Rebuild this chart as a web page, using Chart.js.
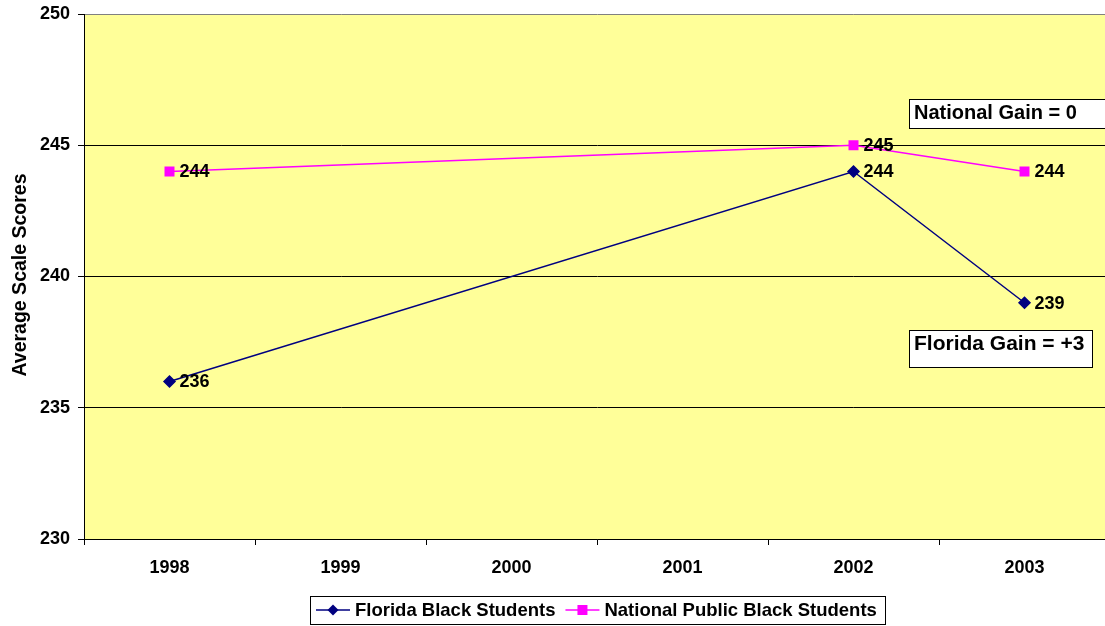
<!DOCTYPE html>
<html><head><meta charset="utf-8">
<script src="https://cdn.jsdelivr.net/npm/chart.js@4/dist/chart.umd.min.js"></script>
<style>html,body{margin:0;padding:0;overflow:hidden;background:#fff;}canvas{display:block;}</style>
</head><body>
<canvas id="c" width="1118" height="626"></canvas>
<script>
const categories = ['1998','1999','2000','2001','2002','2003'];
const floridaScores = [236, null, null, null, 244, 239];
const nationalScores = [244, null, null, null, 245, 244];
const seriesNames = ['Florida Black Students', 'National Public Black Students'];
const yTicks = [230, 235, 240, 245, 250];
const notes = ['National Gain = 0', 'Florida Gain = +3'];

const FONT = '"Liberation Sans", Arial, sans-serif';

const extras = {
  id: 'extras',
  beforeDraw(chart) {
    const {ctx, chartArea: a} = chart;
    ctx.save();
    ctx.fillStyle = '#FFFF99';
    ctx.fillRect(a.left, a.top, a.right - a.left, a.bottom - a.top);
    ctx.restore();
  },
  afterDatasetsDraw(chart) {
    const ctx = chart.ctx;
    ctx.save();
    ctx.font = 'bold 18px ' + FONT;
    ctx.fillStyle = '#000';
    ctx.textBaseline = 'middle';
    ctx.textAlign = 'left';
    chart.data.datasets.forEach((ds, i) => {
      const meta = chart.getDatasetMeta(i);
      meta.data.forEach((pt, j) => {
        if (ds.data[j] == null) return;
        ctx.fillText(String(ds.data[j]), pt.x + 10, pt.y + 1);
      });
    });
    // note boxes
    const drawBox = (x, y, w, h, text, size) => {
      ctx.fillStyle = '#fff';
      ctx.fillRect(x, y, w, h);
      ctx.strokeStyle = '#000';
      ctx.lineWidth = 1;
      ctx.strokeRect(x + 0.5, y + 0.5, w, h);
      ctx.fillStyle = '#000';
      ctx.font = 'bold ' + size + 'px ' + FONT;
      ctx.textBaseline = 'alphabetic';
      ctx.fillText(text, x + 5, y + 20);
    };
    drawBox(909, 99, 220, 29, notes[0], 20);
    drawBox(909, 330, 183, 37, notes[1], 21);
    // y axis title
    ctx.save();
    ctx.translate(21, 275);
    ctx.rotate(-Math.PI / 2);
    ctx.textAlign = 'center';
    ctx.textBaseline = 'middle';
    ctx.font = 'bold 19.5px ' + FONT;
    ctx.fillText('Average Scale Scores', 0, 0);
    ctx.restore();
    // legend
    const lx = 310, ly = 596, lw = 575, lh = 28;
    ctx.fillStyle = '#fff';
    ctx.fillRect(lx, ly, lw, lh);
    ctx.strokeStyle = '#000';
    ctx.lineWidth = 1;
    ctx.strokeRect(lx + 0.5, ly + 0.5, lw, lh);
    ctx.font = 'bold 18.5px ' + FONT;
    ctx.textBaseline = 'middle';
    const cy = ly + lh / 2;
    let x = lx + 6;
    chart.data.datasets.forEach((ds, i) => {
      ctx.strokeStyle = ds.borderColor;
      ctx.lineWidth = 1.5;
      ctx.beginPath(); ctx.moveTo(x, cy); ctx.lineTo(x + 34, cy); ctx.stroke();
      ctx.fillStyle = ds.backgroundColor;
      const mx = x + 17;
      if (ds.pointStyle === 'rectRot') {
        ctx.beginPath(); ctx.moveTo(mx, cy - 5.5); ctx.lineTo(mx + 5.5, cy); ctx.lineTo(mx, cy + 5.5); ctx.lineTo(mx - 5.5, cy); ctx.closePath(); ctx.fill();
      } else {
        ctx.fillRect(mx - 5, cy - 5, 10, 10);
      }
      ctx.fillStyle = '#000';
      ctx.textAlign = 'left';
      ctx.fillText(ds.label, x + 39, cy + 1);
      x += 39 + ctx.measureText(ds.label).width + 10;
    });
    ctx.restore();
  }
};

new Chart(document.getElementById('c'), {
  type: 'line',
  data: {
    labels: categories,
    datasets: [
      { label: seriesNames[0], data: floridaScores, borderColor: '#000080', backgroundColor: '#000080',
        borderWidth: 1.5, pointStyle: 'rectRot', pointRadius: 5.5, pointHoverRadius: 5.5, spanGaps: true, tension: 0 },
      { label: seriesNames[1], data: nationalScores, borderColor: '#FF00FF', backgroundColor: '#FF00FF',
        borderWidth: 1.5, pointStyle: 'rect', pointRadius: 6, pointHoverRadius: 6, spanGaps: true, tension: 0 }
    ]
  },
  options: {
    responsive: false,
    animation: false,
    layout: { padding: { top: 14, right: 8, bottom: 0, left: 0 } },
    plugins: { legend: { display: false }, tooltip: { enabled: false } },
    scales: {
      x: {
        offset: true,
        afterFit(s) { s.height = 87; s.paddingLeft = 0; s.paddingRight = 0; },
        grid: { offset: true, display: true, drawOnChartArea: false, drawTicks: true, tickLength: 6, color: '#000' },
        border: { color: '#000', width: 1 },
        ticks: { color: '#000', font: { family: FONT, size: 18, weight: 'bold' }, padding: 12 }
      },
      y: {
        min: 230, max: 250,
        afterFit(s) { s.width = 84; s.paddingTop = 0; s.paddingBottom = 0; },
        afterBuildTicks(s) { s.ticks = yTicks.map(v => ({ value: v })); },
        grid: {
          color: (c) => (c.tick && c.tick.value === 250) ? '#808080' : '#000',
          tickColor: '#000', tickLength: 6, drawTicks: true
        },
        border: { color: '#000', width: 1 },
        ticks: { color: '#000', font: { family: FONT, size: 18, weight: 'bold' }, padding: 8 }
      }
    }
  },
  plugins: [extras]
});
</script>
</body></html>
